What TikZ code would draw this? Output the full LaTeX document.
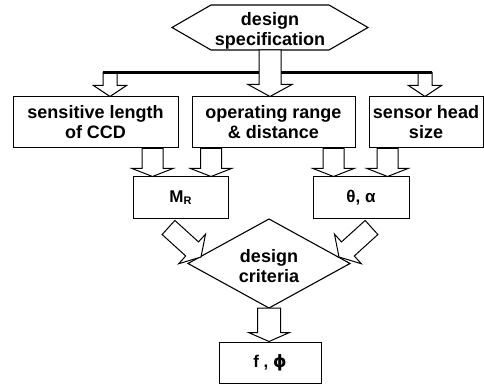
\documentclass[tikz,border=0pt]{standalone}
\usepackage{fontspec}
\setmainfont{Liberation Sans}
\newfontfamily\symfont{DejaVu Sans}
\usetikzlibrary{calc}
% block arrow: start, tip, shaft half width, head half width, head length
\newcommand\barr[5]{%
  \coordinate (hb) at ($(#2)!#5!(#1)$);
  \draw[barrow] ($(#1)!#3!90:(#2)$) -- ($(hb)!#3!90:(#2)$) -- ($(hb)!#4!90:(#2)$) -- (#2)
     -- ($(hb)!#4!-90:(#2)$) -- ($(hb)!#3!-90:(#2)$) -- ($(#1)!#3!-90:(#2)$) -- cycle;}
\tikzset{
  box/.style={draw, line width=1pt, inner sep=2pt, align=center,
    font=\bfseries\fontsize{18}{20}\selectfont},
  txt/.style={inner sep=0pt, align=center, font=\bfseries\fontsize{18}{20}\selectfont},
  outline/.style={draw, line width=1.1pt, line join=miter},
  barrow/.style={draw, fill=white, line width=1pt, line join=miter},
}
\begin{document}
\begin{tikzpicture}[x=1pt,y=-1pt]
\useasboundingbox (0,0) rectangle (484,387);
% hexagon
\coordinate (h1) at (172,27.5); \coordinate (h2) at (211,5); \coordinate (h3) at (329,5);
\coordinate (h4) at (368,27.5); \coordinate (h5) at (329,50); \coordinate (h6) at (211,50);
\draw[outline] (h1) -- (h2) -- (h3) -- (h4) -- (h5) -- (h6) -- cycle;
\node[txt] (spec) at (270,30.4) {design\\specification};
\coordinate (specb) at (270,50);
% top boxes
\node[box, minimum width=165pt, minimum height=51pt] (ccd) at (95.5,122.5) {sensitive length\\of CCD};
\node[box, minimum width=163pt, minimum height=51pt] (range) at (273.5,122.5) {operating range\\\& distance};
\node[box, minimum width=114pt, minimum height=51pt] (head) at (426,122.5) {sensor head\\size};
% middle boxes
\node[box, font=\bfseries\fontsize{17}{20}\selectfont, minimum width=95pt, minimum height=42pt] (mr) at (180.5,198)
  {M{\fontsize{11}{11}\selectfont\raisebox{-2pt}{R}}};
\node[box, font=\bfseries\fontsize{17}{20}\selectfont, minimum width=96pt, minimum height=42pt] (ta) at (361,198) {θ, α};
% diamond
\coordinate (dt) at (269,219); \coordinate (dr) at (350,263.5);
\coordinate (db) at (269,308); \coordinate (dl) at (188,263.5);
\draw[outline] (dt) -- (dr) -- (db) -- (dl) -- cycle;
\node[txt] (crit) at (269,266.5) {design\\criteria};
% bottom box
\node[box, font=\bfseries\fontsize{17}{20}\selectfont, minimum width=102pt, minimum height=41pt] (f) at (270,362.5) {f , {\symfont\bfseries ϕ}};
% distribution bar and branch arrows
\coordinate (bl) at (110,72.5); \coordinate (br) at (425,72.5);
\coordinate (bl0) at (103,72.5); \coordinate (br0) at (432,72.5);
\barr{bl}{bl |- ccd.north}{7pt}{16.5pt}{11pt}
\barr{br}{br |- head.north}{7pt}{16.5pt}{11pt}
\draw[line width=3.5pt] (bl0) -- (br0);
\barr{specb}{specb |- range.north}{11pt}{22pt}{12pt}
% arrows into middle boxes
\coordinate (x1) at (152.5,0); \coordinate (x2) at (211,0);
\coordinate (x3) at (333.5,0); \coordinate (x4) at (387.5,0);
\coordinate (s1) at (ccd.south -| x1);   \coordinate (t1) at (mr.north -| x1);
\coordinate (s2) at (range.south -| x2); \coordinate (t2) at (mr.north -| x2);
\coordinate (s3) at (range.south -| x3); \coordinate (t3) at (ta.north -| x3);
\coordinate (s4) at (head.south -| x4);  \coordinate (t4) at (ta.north -| x4);
\barr{s1}{t1}{10.5pt}{20.5pt}{8pt}
\barr{s2}{t2}{10.5pt}{20.5pt}{8pt}
\barr{s3}{t3}{10.5pt}{20.5pt}{8pt}
\barr{s4}{t4}{10.5pt}{20.5pt}{8pt}
% diagonal arrows into diamond
\coordinate (dls) at (168.5,227.5); \coordinate (dlt) at (201,257);
\coordinate (drs) at (371.5,227.5); \coordinate (drt) at (339,257);
\barr{dls}{dlt}{9.5pt}{20pt}{12pt}
\barr{drs}{drt}{9.5pt}{20pt}{12pt}
% arrow to result
\coordinate (fs) at (db);
\barr{fs}{fs |- f.north}{11.5pt}{20.5pt}{9pt}
\end{tikzpicture}
\end{document}
